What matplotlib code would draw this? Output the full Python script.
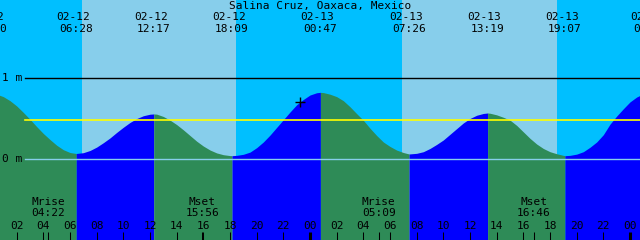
import numpy as np
import matplotlib
matplotlib.use("Agg")
import matplotlib.pyplot as plt
import matplotlib.transforms as mtransforms

# tide curve (hours since 02-12 00:00, metres)
tide_hours = [0.0, 0.5, 1.0, 1.5, 2.0, 2.5, 3.0, 3.5, 4.0, 4.5, 5.0, 5.5, 6.0, 6.47,
              7.0, 7.5, 8.0, 8.5, 9.0, 9.5, 10.0, 10.5, 11.0, 11.5, 12.0, 12.28,
              12.5, 13.0, 13.5, 14.0, 14.5, 15.0, 15.5, 16.0, 16.5, 17.0, 17.5, 18.0, 18.15,
              18.5, 19.0, 19.5, 20.0, 20.5, 21.0, 21.5, 22.0, 22.5, 23.0, 23.5, 24.0, 24.5, 24.78,
              25.0, 25.5, 26.0, 26.5, 27.0, 27.5, 28.0, 28.5, 29.0, 29.5, 30.0, 30.5, 31.0, 31.43,
              32.0, 32.5, 33.0, 33.5, 34.0, 34.5, 35.0, 35.5, 36.0, 36.5, 37.0, 37.32,
              37.5, 38.0, 38.5, 39.0, 39.5, 40.0, 40.5, 41.0, 41.5, 42.0, 42.5, 43.0, 43.12,
              43.5, 44.0, 44.5, 45.0, 45.5, 46.0, 46.5, 47.0, 47.5, 48.0, 48.5, 49.0, 49.5]
tide_height = [0.81, 0.80, 0.77, 0.72, 0.655, 0.575, 0.49, 0.40, 0.315, 0.24, 0.17, 0.115, 0.08, 0.068,
               0.078, 0.105, 0.147, 0.201, 0.26, 0.328, 0.392, 0.451, 0.499, 0.534, 0.553, 0.556,
               0.554, 0.525, 0.48, 0.425, 0.36, 0.29, 0.22, 0.16, 0.111, 0.075, 0.053, 0.042, 0.041,
               0.045, 0.058, 0.085, 0.14, 0.21, 0.295, 0.39, 0.485, 0.58, 0.67, 0.735, 0.79, 0.818, 0.823,
               0.82, 0.80, 0.77, 0.72, 0.645, 0.56, 0.478, 0.38, 0.29, 0.21, 0.155, 0.11, 0.08, 0.062,
               0.07, 0.09, 0.13, 0.18, 0.235, 0.305, 0.375, 0.445, 0.50, 0.54, 0.562, 0.568,
               0.565, 0.545, 0.515, 0.48, 0.415, 0.335, 0.255, 0.185, 0.13, 0.09, 0.065, 0.045, 0.041,
               0.045, 0.06, 0.09, 0.145, 0.21, 0.30, 0.43, 0.53, 0.62, 0.705, 0.765, 0.805, 0.82]

# high / low tide events
event_hours = [0.0, 6.47, 12.28, 18.15, 24.78, 31.43, 37.32, 43.12, 49.5]
event_dates = ["02-12", "02-12", "02-12", "02-12", "02-13", "02-13", "02-13", "02-13", "02-14"]
event_times = ["00:00", "06:28", "12:17", "18:09", "00:47", "07:26", "13:19", "19:07", "01:30"]

sunrise = [6.9, 30.9]
sunset = [18.45, 42.53]

moon_hours = [4.37, 15.93, 29.15, 40.77]
moon_names = ["Mrise", "Mset", "Mrise", "Mset"]
moon_times = ["04:22", "15:56", "05:09", "16:46"]

mean_level = 0.478
title = "Salina Cruz, Oaxaca, Mexico"
now_hour, now_height = 23.25, 0.707

W, H = 640, 240
t = np.array(tide_hours)
h = np.array(tide_height)

fig = plt.figure(figsize=(6.4, 2.4), dpi=100)
ax = fig.add_axes([0, 0, 1, 1])
ax.set_xlim(0.75, 48.75)
ax.set_ylim(-1.0, 1.963)
ax.axis("off")
fig.patch.set_facecolor("#00BFFF")
ax.set_facecolor("#00BFFF")

mono = "DejaVu Sans Mono"
fs = 8
blend = mtransforms.blended_transform_factory(ax.transData, ax.transAxes)
blend_y = mtransforms.blended_transform_factory(ax.transAxes, ax.transData)

def fy(ypx):
    return 1 - ypx / H

# sky: night background, daylight bands
ax.axvspan(0, 50, color="#00BFFF", zorder=0)
for a, b in zip(sunrise, sunset):
    ax.axvspan(a, b, color="#87CEEB", lw=0, zorder=1)

# water, green while falling, blue while rising
for i in range(len(event_hours) - 1):
    m = (t >= event_hours[i]) & (t <= event_hours[i + 1])
    seg_t, seg_h = t[m], h[m]
    col = "#0000FF" if seg_h[-1] > seg_h[0] else "#2E8B57"
    ax.fill_between(seg_t, -1.0, seg_h, color=col, lw=0, zorder=2)

# datum lines
x0 = 25 / W
ax.axhline(1.0, xmin=x0, xmax=1, color="black", lw=1, zorder=3)
ax.axhline(0.0, xmin=x0, xmax=1, color="#87CEEB", lw=1, zorder=3)
ax.axhline(mean_level, xmin=x0, xmax=1, color="#FFFF00", lw=1.2, zorder=3)
ax.text(2 / W, 1.0, "1 m", transform=blend_y, family=mono, fontsize=fs, va="center", ha="left", zorder=4)
ax.text(2 / W, 0.0, "0 m", transform=blend_y, family=mono, fontsize=fs, va="center", ha="left", zorder=4)

# current time marker
ax.plot([now_hour], [now_height], marker="+", color="black", ms=7, mew=1, zorder=5)

# title and event labels
ax.text(0.5, fy(6), title, transform=ax.transAxes, family=mono, fontsize=fs,
        ha="center", va="center", zorder=6)
for eh, d, tm in zip(event_hours, event_dates, event_times):
    ax.annotate(d, (eh, fy(17.5)), xycoords=blend, xytext=(-3, 0), textcoords="offset pixels",
                family=mono, fontsize=fs, ha="center", va="center", zorder=6)
    ax.annotate(tm, (eh, fy(29)), xycoords=blend, family=mono, fontsize=fs,
                ha="center", va="center", zorder=6)

# moon events
for mh, nm, tm in zip(moon_hours, moon_names, moon_times):
    ax.text(mh, fy(202), nm, transform=blend, family=mono, fontsize=fs, ha="center", va="center", zorder=6)
    ax.text(mh, fy(213), tm, transform=blend, family=mono, fontsize=fs, ha="center", va="center", zorder=6)
    ax.vlines(mh, 0, 8 / H, transform=blend, color="black", lw=0.75, zorder=6)

# hour ticks
for hr in range(2, 49, 2):
    ax.text(hr, fy(226), "%02d" % (hr % 24), transform=blend, family=mono, fontsize=fs,
            ha="center", va="center", zorder=6)
    lw = 2.2 if hr % 24 == 0 else 0.75
    ax.vlines(hr, 0, 8 / H, transform=blend, color="black", lw=lw, zorder=6)

fig.savefig("out.png", dpi=100)
